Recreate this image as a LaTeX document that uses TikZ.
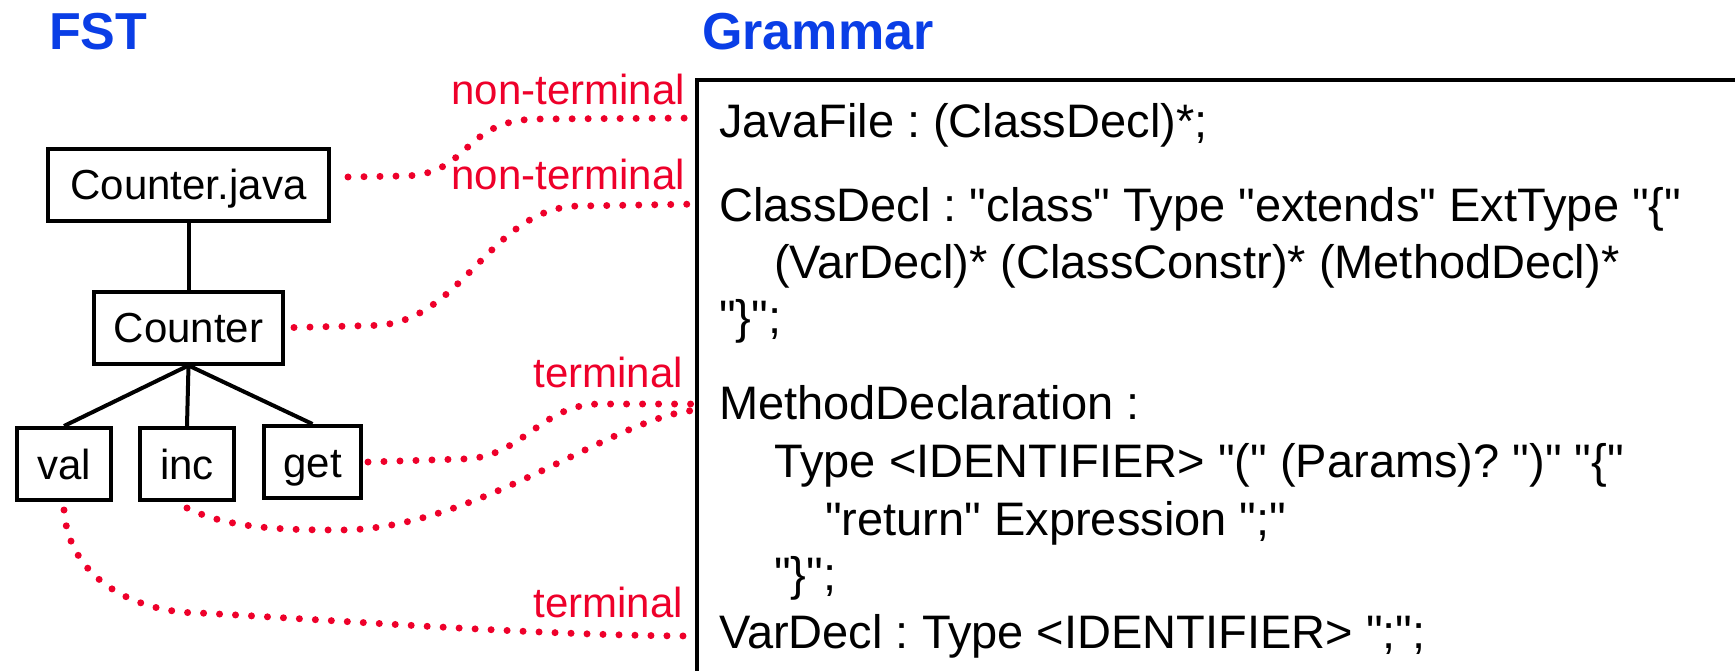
\documentclass[tikz,border=0pt]{standalone}
\usepackage{fontspec}
\setmainfont{Liberation Sans}[Ligatures=TeXOff]
\frenchspacing
\definecolor{linkred}{RGB}{238,0,42}
\definecolor{titleblue}{RGB}{10,62,230}
\tikzset{
  treebox/.style={draw, line width=4pt, inner sep=0pt,
    font=\fontsize{42}{50}\selectfont, text height=30pt, text depth=0pt,
    minimum height=72pt},
  treeedge/.style={line width=4pt},
  link/.style={draw=linkred, line width=7pt, line cap=round,
    dash pattern=on 0pt off 16pt},
  kind/.style={anchor=base east, inner sep=0pt, text=linkred,
    font=\fontsize{42}{50}\selectfont},
  rule/.style={anchor=base west, inner sep=0pt,
    font=\fontsize{47}{56}\selectfont},
  title/.style={anchor=base west, inner sep=0pt, text=titleblue,
    font=\fontsize{52}{60}\selectfont\bfseries},
}
\begin{document}
\begin{tikzpicture}[x=1pt,y=-1pt]
\useasboundingbox (0,0) rectangle (1735,671);

% headings
\node[title] (fst) at (49,50) {FST};
\node[title] (gram) at (702,50) {Grammar};

% feature structure tree
\node[treebox, minimum width=281pt] (cj)  at (188.5,185)   {Counter.java};
\node[treebox, minimum width=189pt] (ctr) at (188.5,327.5) {Counter};
\node[treebox, minimum width=94pt]  (val) at (64,464)      {val};
\node[treebox, minimum width=94pt]  (inc) at (187,464)     {inc};
\node[treebox, minimum width=97pt]  (get) at (312.5,462)   {get};

\draw[treeedge] (cj.south) -- (ctr.north);
\draw[treeedge] (ctr.south) -- (val.north);
\draw[treeedge] (ctr.south) -- (inc.north);
\draw[treeedge] (ctr.south) -- (get.north);

% grammar frame (runs off the right and bottom edges)
\draw[line width=4pt] (1735,80) -- (697,80) -- (697,671);

% grammar rules
\node[rule] (r1) at (719,138) {JavaFile : (ClassDecl)*;};
\node[rule] (r2) at (719,222) {ClassDecl : "class" Type "extends" ExtType "\{"};
\node[rule] (r3) at (774,278) {(VarDecl)* (ClassConstr)* (MethodDecl)*};
\node[rule] (r4) at (719,333) {"\}";};
\node[rule] (r5) at (719,419) {MethodDeclaration :};
\node[rule] (r6) at (774,477) {Type <IDENTIFIER> "(" (Params)? ")" "\{"};
\node[rule] (r7) at (825,535) {"return" Expression ";"};
\node[rule] (r8) at (774,590) {"\}";};
\node[rule] (r9) at (719,648) {VarDecl : Type <IDENTIFIER> ";";};

% labels of the mappings
\node[kind] (k1) at (685,105) {non-terminal};
\node[kind] (k2) at (685,190) {non-terminal};
\node[kind] (k3) at (683,387) {terminal};
\node[kind] (k4) at (683,617) {terminal};

% mapping end points on the grammar frame
\coordinate (eJava)  at (700,118);
\coordinate (eClass) at (700,204);
\coordinate (eMeth)  at (702,404);
\coordinate (eMeth2) at (702,410);
\coordinate (eVar)   at (698,636);

% dotted mappings from tree nodes to grammar rules
\draw[link] ([xshift=17pt,yshift=8pt]cj.east) -- ++(54,-1)
  .. controls +(70,0) and +(-80,0) .. (540,119) -- (eJava);
\draw[link] ([xshift=9pt]ctr.east) -- ++(78,-2)
  .. controls +(90,0) and +(-90,0) .. (580,206) -- (eClass);
\draw[link] ([xshift=5pt]get.east) -- ++(94,-3)
  .. controls +(60,0) and +(-60,0) .. (600,404) -- (eMeth);
\draw[link] ([yshift=-6pt]inc.south)
  .. controls +(40,20) and +(-60,0) .. (340,530)
  .. controls +(140,0) and +(-80,0) .. (eMeth2);
\draw[link] ([yshift=-8pt]val.south)
  .. controls +(5,72) and +(-60,0) .. (200,613)
  .. controls +(150,8) and +(-150,0) .. (eVar);
\end{tikzpicture}
\end{document}
